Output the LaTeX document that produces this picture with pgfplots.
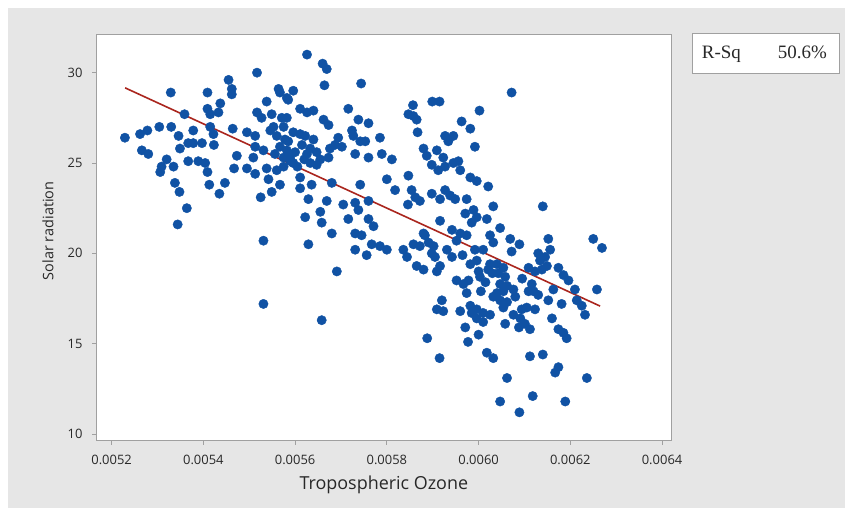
\documentclass[border=0pt]{standalone}
\usepackage{pgfplots}
\pgfplotsset{compat=1.18}
\usepackage{pgfplotstable}
\usepackage{fontspec}
\setmainfont{Open Sans}
\newfontfamily\rsqfont{Liberation Serif}
\definecolor{bggray}{RGB}{230,230,230}
\definecolor{dotblue}{RGB}{16,82,164}
\definecolor{regred}{RGB}{170,38,30}
\definecolor{framegray}{RGB}{160,160,160}
\definecolor{txt}{RGB}{40,40,40}

\pgfplotstableread{
x y
0.005517 30.0
0.005455 29.6
0.005462 29.1
0.005462 28.8
0.005329 28.9
0.005409 28.9
0.005564 29.1
0.005538 28.4
0.005582 28.6
0.005437 28.3
0.005433 27.8
0.005409 28.0
0.005415 27.7
0.005359 27.7
0.005517 27.8
0.005527 27.5
0.005549 27.7
0.005571 27.5
0.005553 27.0
0.005575 27.0
0.005229 26.4
0.005262 26.6
0.005278 26.8
0.005304 27.0
0.005330 27.0
0.005346 26.5
0.005378 26.8
0.005415 27.0
0.005422 26.6
0.005464 26.9
0.005495 26.7
0.005513 26.5
0.005546 26.8
0.005560 26.5
0.005578 26.3
0.005266 25.7
0.005280 25.5
0.005349 25.8
0.005367 26.1
0.005378 26.1
0.005397 26.1
0.005423 26.0
0.005473 25.4
0.005513 25.9
0.005509 25.3
0.005531 25.7
0.005556 25.5
0.005575 25.3
0.005320 25.2
0.005309 24.8
0.005306 24.5
0.005335 24.8
0.005367 25.1
0.005389 25.1
0.005404 25.0
0.005409 24.5
0.005467 24.7
0.005495 24.7
0.005513 24.4
0.005538 24.7
0.005560 24.6
0.005575 24.8
0.005338 23.9
0.005348 23.4
0.005413 23.8
0.005447 23.9
0.005435 23.3
0.005542 24.1
0.005549 23.4
0.005567 23.8
0.005525 23.1
0.005364 22.5
0.005344 21.6
0.005531 20.7
0.005531 17.2
0.005626 31.0
0.005660 30.5
0.005669 30.2
0.005744 29.4
0.005664 29.3
0.005596 29.0
0.005585 28.5
0.005567 28.9
0.005899 28.4
0.005915 28.4
0.005857 28.2
0.005716 28.0
0.005611 28.0
0.005626 27.8
0.005640 27.9
0.005582 27.5
0.005847 27.7
0.005858 27.6
0.005865 27.4
0.005662 27.4
0.005673 27.1
0.005738 27.4
0.005760 27.2
0.005963 27.3
0.006002 27.9
0.005867 26.7
0.005982 26.9
0.005724 26.8
0.005727 26.5
0.005742 26.2
0.005785 26.4
0.005596 26.7
0.005611 26.6
0.005622 26.5
0.005927 26.5
0.005945 26.5
0.005934 26.2
0.005694 26.4
0.005687 26.0
0.005702 25.9
0.005676 25.8
0.005753 26.2
0.005992 25.9
0.005880 25.8
0.005887 25.4
0.005909 25.7
0.005923 25.3
0.005615 26.0
0.005633 25.8
0.005647 25.6
0.005626 25.5
0.005567 25.9
0.005582 25.7
0.005589 25.3
0.005600 25.6
0.005590 25.1
0.005605 24.8
0.005620 25.2
0.005585 26.2
0.005640 26.3
0.005655 25.2
0.005731 25.5
0.005760 25.3
0.005789 25.5
0.005811 25.2
0.005673 25.3
0.005633 25.0
0.005647 24.9
0.005596 25.0
0.005898 24.9
0.005912 24.6
0.005927 24.8
0.005945 25.0
0.005956 25.1
0.005960 24.6
0.005982 24.2
0.005996 24.0
0.005847 24.3
0.005680 23.9
0.005742 23.8
0.005800 24.1
0.005611 24.2
0.005636 23.8
0.005611 23.6
0.005818 23.5
0.005854 23.5
0.005862 23.1
0.005872 22.9
0.005898 23.3
0.005927 23.5
0.005938 23.2
0.005949 23.0
0.005916 23.0
0.005974 23.0
0.005989 22.4
0.005971 22.2
0.005996 22.0
0.005985 21.7
0.005629 23.0
0.005669 22.9
0.005705 22.7
0.005731 22.8
0.005738 22.4
0.005760 22.9
0.005622 22.0
0.005655 22.3
0.005658 21.7
0.005716 21.9
0.005760 21.9
0.005771 21.5
0.005680 21.1
0.005731 21.1
0.005745 21.0
0.005846 22.7
0.005916 21.8
0.005880 21.1
0.005942 21.3
0.005960 21.1
0.005629 20.5
0.005731 20.2
0.005756 19.9
0.005767 20.5
0.005785 20.4
0.005800 20.2
0.005691 19.0
0.005836 20.2
0.005844 19.8
0.005858 20.5
0.005872 20.4
0.005883 21.0
0.005891 20.6
0.005902 20.4
0.005898 20.0
0.005905 19.8
0.005865 19.3
0.005880 19.1
0.005909 19.0
0.005916 19.3
0.005931 20.2
0.005942 19.8
0.005952 20.7
0.005974 21.0
0.005992 20.2
0.005996 19.6
0.005965 19.9
0.005952 18.5
0.005967 18.3
0.005978 18.5
0.005974 17.8
0.005920 17.4
0.005909 16.9
0.005923 16.8
0.005960 16.8
0.005985 16.7
0.005996 16.4
0.005971 15.9
0.006000 15.5
0.005658 16.3
0.005888 15.3
0.005977 15.1
0.005915 14.2
0.006072 28.9
0.006021 23.7
0.006032 22.6
0.006018 21.9
0.006047 21.4
0.006140 22.6
0.006025 21.0
0.006069 20.8
0.006152 20.8
0.006250 20.8
0.006032 20.6
0.006010 20.2
0.005982 19.4
0.006089 20.5
0.006072 20.1
0.006156 20.2
0.006130 20.0
0.006145 19.8
0.006134 19.6
0.006269 20.3
0.006025 19.4
0.006040 19.4
0.006054 19.2
0.006021 19.1
0.006043 18.9
0.006058 18.7
0.006003 18.7
0.006000 19.0
0.006015 18.4
0.006030 18.9
0.006109 19.2
0.006123 19.0
0.006138 19.1
0.006149 19.3
0.006174 19.2
0.006185 18.8
0.006196 18.5
0.006047 18.3
0.006062 18.2
0.006076 18.0
0.006054 17.9
0.006040 17.8
0.006005 17.9
0.006080 17.6
0.006095 18.6
0.006130 17.7
0.006116 18.3
0.006109 17.9
0.006120 17.9
0.006163 18.0
0.006152 17.4
0.006181 17.2
0.006210 18.0
0.006214 17.4
0.006225 17.1
0.006232 16.6
0.006258 18.0
0.006032 17.6
0.006047 17.4
0.006062 17.3
0.006054 17.0
0.005982 17.1
0.005996 16.9
0.006010 16.7
0.006025 16.6
0.006010 16.2
0.006076 16.6
0.006094 16.9
0.006105 17.0
0.006123 16.9
0.006091 16.4
0.006101 16.1
0.006112 15.8
0.006088 15.9
0.006058 16.1
0.006160 16.4
0.006174 15.8
0.006185 15.6
0.006192 15.3
0.006018 14.5
0.006032 14.2
0.006112 14.3
0.006140 14.4
0.006062 13.1
0.006174 13.7
0.006167 13.4
0.006236 13.1
0.006047 11.8
0.006118 12.1
0.006089 11.2
0.006189 11.8
}\ozone

\begin{document}
\begin{tikzpicture}
\fill[white] (0bp,0bp) rectangle (845bp,-508bp);
\useasboundingbox (0bp,0bp) rectangle (845bp,-508bp);
\fill[bggray] (8bp,-8bp) rectangle (845bp,-508bp);
\begin{axis}[
  at={(96bp,-440.7bp)}, anchor=south west,
  scale only axis, width=575.7bp, height=406.7bp,
  xmin=0.005166, xmax=0.006421, ymin=9.63, ymax=32.14,
  axis background/.style={fill=white},
  axis line style={draw=framegray, line width=0.8bp},
  xtick={0.0052,0.0054,0.0056,0.0058,0.0060,0.0062,0.0064},
  xticklabels={0.0052,0.0054,0.0056,0.0058,0.0060,0.0062,0.0064},
  scaled x ticks=false,
  ytick={10,15,20,25,30},
  tick align=outside, xtick pos=bottom, ytick pos=left,
  major tick length=4bp,
  tick style={draw=framegray, line width=0.8bp},
  /pgf/number format/assume math mode=true,
  ticklabel style={font=\fontsize{13}{15}\selectfont, text=txt},
  xticklabel style={yshift=-7bp},
  yticklabel style={xshift=-6bp},
  xlabel={Tropospheric Ozone},
  ylabel={Solar radiation},
  xlabel style={at={(axis description cs:0.5,-0.1212)}, anchor=base, font=\fontsize{18}{20}\selectfont, text=txt},
  ylabel style={at={(axis description cs:-0.0834,0.516)}, anchor=center, font=\fontsize{14.5}{16}\selectfont, text=txt},
]
\addplot[only marks, mark=*, mark size=4.7pt, mark options={draw=dotblue, fill=dotblue}] table[x=x,y=y]{\ozone};
\addplot[regred, line width=1.6bp] coordinates {(0.0052294,29.16) (0.0062649,17.08)};
\end{axis}
\draw[framegray, fill=white, line width=0.8bp] (692.7bp,-33bp) rectangle (839bp,-73bp);
\node[anchor=base west, font=\rsqfont\fontsize{19}{21}\selectfont, text=txt, inner sep=0pt] at (701.7bp,-58bp) {R-Sq};
\node[anchor=base east, font=\rsqfont\fontsize{19}{21}\selectfont, text=txt, inner sep=0pt] at (827bp,-58bp) {50.6\%};
\end{tikzpicture}
\end{document}
